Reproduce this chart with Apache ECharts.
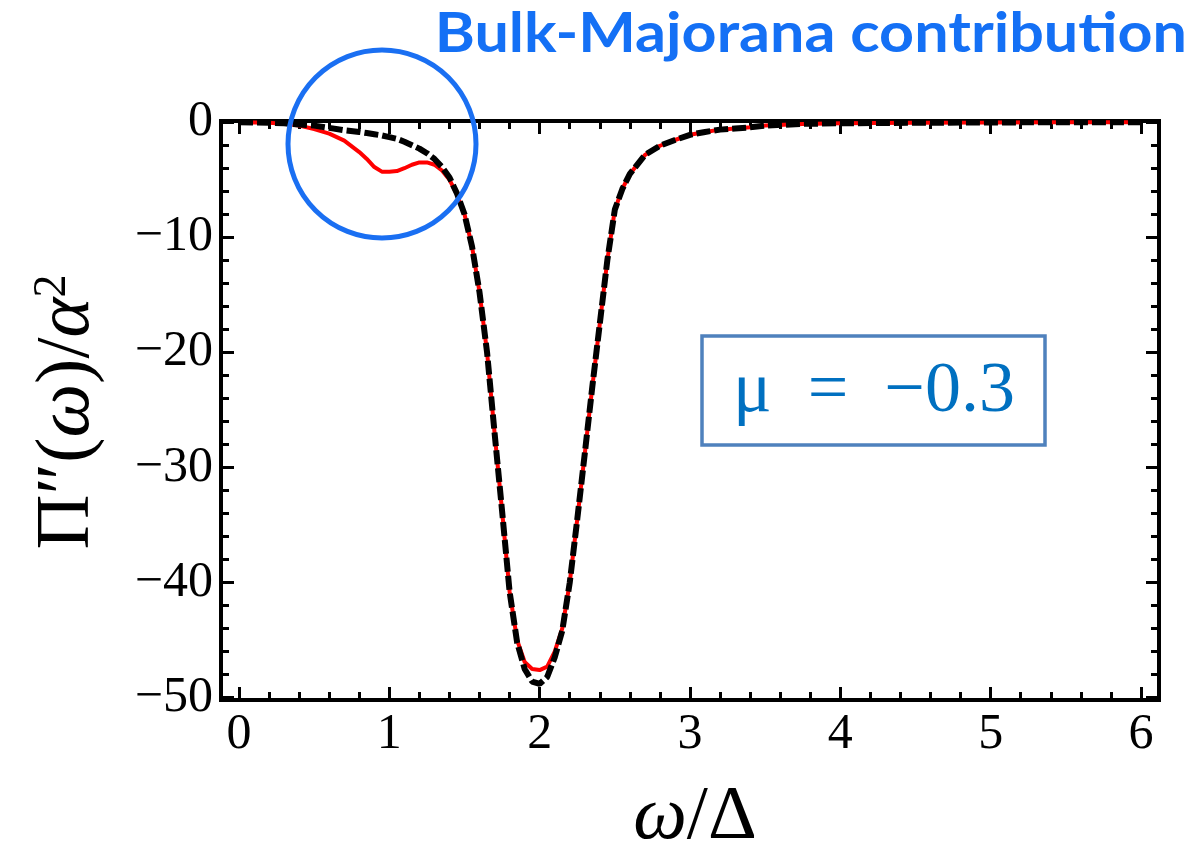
<!DOCTYPE html>
<html>
<head>
<meta charset="utf-8">
<script src="https://cdn.jsdelivr.net/npm/echarts@6/dist/echarts.min.js"></script>
<style>
  html, body { margin: 0; padding: 0; background: #ffffff; }
  #chart { width: 1192px; height: 855px; }
</style>
</head>
<body>
<div id="chart"></div>
<script>
// Frequency grid ω/Δ shared by both curves
const omega = [0, 0.2, 0.3, 0.4, 0.5, 0.6, 0.7, 0.8, 0.85, 0.9, 0.95, 1.0, 1.05, 1.1, 1.15, 1.2, 1.25, 1.3, 1.35, 1.4,
  1.45, 1.5, 1.55, 1.6, 1.65, 1.7, 1.75, 1.8, 1.85, 1.9, 1.95, 2.0, 2.05, 2.1, 2.15, 2.2, 2.25, 2.3, 2.35, 2.4,
  2.45, 2.5, 2.55, 2.6, 2.7, 2.8, 2.9, 3.0, 3.1, 3.2, 3.3, 3.4, 3.5, 3.75, 4.0, 4.5, 5.0, 5.5, 6.0];

// Π''(ω)/α² including the bulk-Majorana states (solid red)
const piWithBulk = [0, -0.05, -0.15, -0.3, -0.6, -1.0, -1.6, -2.6, -3.2, -3.9, -4.3, -4.3, -4.25, -4.0, -3.7, -3.5, -3.5, -3.7, -4.2, -5.0,
  -6.3, -8.0, -10.8, -14.8, -20.0, -27.0, -33.8, -40.8, -45.0, -46.9, -47.5, -47.6, -47.3, -46.0, -44.0, -40.0, -34.5, -28.8, -23.0, -17.5,
  -12.0, -7.6, -5.8, -4.5, -2.85, -2.05, -1.55, -1.1, -0.85, -0.65, -0.55, -0.45, -0.3, -0.15, -0.1, -0.05, -0.03, 0, 0];

// Π''(ω)/α² without the bulk-Majorana states (dashed black)
const piWithoutBulk = [0, -0.05, -0.1, -0.2, -0.3, -0.5, -0.7, -0.85, -0.95, -1.05, -1.15, -1.3, -1.45, -1.7, -2.0, -2.3, -2.7, -3.2, -3.9, -4.8,
  -6.2, -8.0, -10.8, -14.8, -20.0, -27.0, -33.8, -40.8, -45.2, -47.5, -48.6, -48.8, -48.2, -46.5, -44.2, -40.0, -34.5, -28.8, -23.0, -17.5,
  -12.0, -7.6, -5.8, -4.5, -2.85, -2.05, -1.55, -1.1, -0.85, -0.65, -0.55, -0.45, -0.3, -0.15, -0.1, -0.05, -0.03, 0, 0];

// Tick labels
const xTicks = [0, 1, 2, 3, 4, 5, 6];
const yTicks = [0, -10, -20, -30, -40, -50];

const X_MIN = -0.12, X_MAX = 6.12;
const Y_MIN = -50.2, Y_MAX = 0.1;

// minor ticks: 0.2 on x, 2 on y
const xMinor = [];
for (let i = 0; i <= 30; i++) { if (i % 5) xMinor.push(+(i * 0.2).toFixed(2)); }
const yMinor = [];
for (let i = 0; i <= 25; i++) { if (i % 5) yMinor.push(-2 * i); }

const pairs = (xs, ys) => xs.map((x, i) => [x, ys[i]]);

const tickFont = { fontFamily: 'Liberation Serif', fontSize: 50, color: '#000' };
const MAJOR_LEN = 13, MINOR_LEN = 8;

// frame-side tick axes: every axis sits on its grid edge, ticks pointing inward
function xAxisDef(position, values, len, withLabels) {
  return {
    type: 'value', min: X_MIN, max: X_MAX, position: position,
    axisLine: { show: false, onZero: false }, splitLine: { show: false },
    axisTick: { show: true, inside: true, length: len, customValues: values, lineStyle: { color: '#000', width: 3 } },
    axisLabel: withLabels
      ? Object.assign({ show: true, customValues: values, margin: 10 }, tickFont)
      : { show: false }
  };
}
function yAxisDef(position, values, len, withLabels) {
  return {
    type: 'value', min: Y_MIN, max: Y_MAX, position: position,
    axisLine: { show: false, onZero: false }, splitLine: { show: false },
    axisTick: { show: true, inside: true, length: len, customValues: values, lineStyle: { color: '#000', width: 3 } },
    axisLabel: withLabels
      ? Object.assign({ show: true, customValues: values, margin: 8,
          formatter: v => (v === 0 ? '0' : '\u2212' + Math.abs(v)) }, tickFont)
      : { show: false }
  };
}

const chart = echarts.init(document.getElementById('chart'), null, { renderer: 'canvas' });

chart.setOption({
  animation: false,
  backgroundColor: '#ffffff',
  grid: {
    left: 221, right: 33, top: 121, bottom: 155,
    show: true, borderColor: '#000', borderWidth: 4, backgroundColor: 'transparent'
  },
  xAxis: [
    xAxisDef('bottom', xTicks, MAJOR_LEN, true),
    xAxisDef('bottom', xMinor, MINOR_LEN, false),
    xAxisDef('top', xTicks, MAJOR_LEN, false),
    xAxisDef('top', xMinor, MINOR_LEN, false)
  ],
  yAxis: [
    yAxisDef('left', yTicks, MAJOR_LEN, true),
    yAxisDef('left', yMinor, MINOR_LEN, false),
    yAxisDef('right', yTicks, MAJOR_LEN, false),
    yAxisDef('right', yMinor, MINOR_LEN, false)
  ],
  series: [
    {
      type: 'line', xAxisIndex: 0, yAxisIndex: 0,
      data: pairs(omega, piWithBulk),
      showSymbol: false, smooth: false,
      lineStyle: { color: '#ff0000', width: 4 }, z: 3
    },
    {
      type: 'line', xAxisIndex: 0, yAxisIndex: 0,
      data: pairs(omega, piWithoutBulk),
      showSymbol: false, smooth: false,
      lineStyle: { color: '#000000', width: 6, type: [14, 4] }, z: 4
    }
  ],
  graphic: [
    {
      type: 'text', x: 1187, y: 34, scaleX: 1.09, z: 50,
      style: {
        text: 'Bulk-Majorana contribution', fill: '#1470f5',
        fontFamily: 'Lato', fontWeight: 'bold', fontSize: 56,
        align: 'right', verticalAlign: 'middle'
      }
    },
    {
      type: 'circle', z: 50,
      shape: { cx: 382, cy: 144, r: 94 },
      style: { fill: 'none', stroke: '#1a6ff2', lineWidth: 5 }
    },
    {
      type: 'rect', z: 50,
      shape: { x: 702, y: 336, width: 343, height: 109 },
      style: { fill: 'none', stroke: '#4f81bd', lineWidth: 3.5 }
    },
    {
      type: 'text', x: 874, y: 392, z: 51,
      style: {
        text: '\u03bc\u2002=\u2002\u22120.3', fill: '#0070c0',
        fontFamily: 'Liberation Serif', fontSize: 72,
        align: 'center', verticalAlign: 'middle'
      }
    },
    {
      type: 'text', x: 695, y: 818, z: 51,
      style: {
        text: '{i|\u03c9}{n|/\u0394}', fill: '#000',
        align: 'center', verticalAlign: 'middle',
        rich: {
          i: { fontFamily: 'Liberation Serif', fontStyle: 'italic', fontSize: 76, fill: '#000' },
          n: { fontFamily: 'Liberation Serif', fontSize: 76, fill: '#000' }
        }
      }
    },
    {
      type: 'text', x: 68, y: 412, rotation: Math.PI / 2, z: 51,
      style: {
        text: '{n|\u03a0\u2033(}{i|\u03c9}{n|)/}{i|\u03b1}{s|2}', fill: '#000',
        align: 'center', verticalAlign: 'middle',
        rich: {
          n: { fontFamily: 'Liberation Serif', fontSize: 76, fill: '#000' },
          i: { fontFamily: 'Liberation Serif', fontStyle: 'italic', fontSize: 76, fill: '#000' },
          s: { fontFamily: 'Liberation Serif', fontSize: 46, fill: '#000', verticalAlign: 'top' }
        }
      }
    }
  ]
});
</script>
</body>
</html>
